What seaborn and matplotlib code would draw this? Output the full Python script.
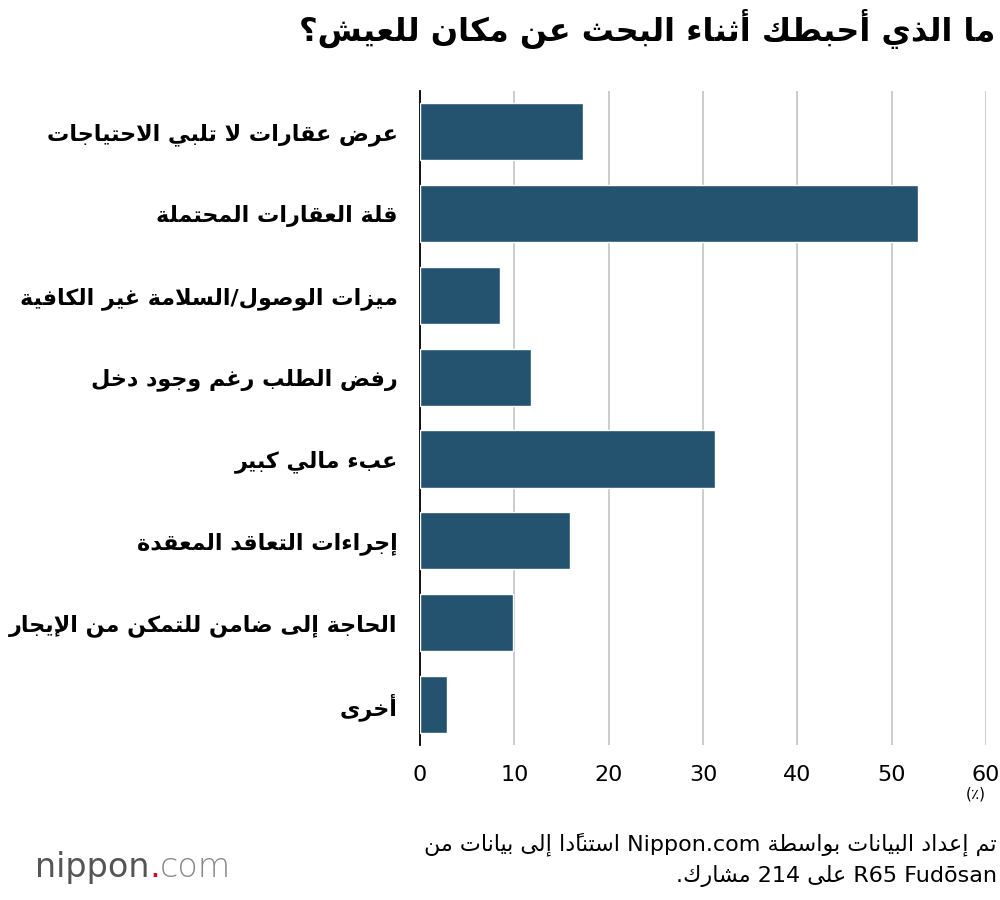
import matplotlib
matplotlib.use("Agg")
import matplotlib.pyplot as plt
import seaborn as sns
import pandas as pd

title = "ما الذي أحبطك أثناء البحث عن مكان للعيش؟"
categories = [
    "عرض عقارات لا تلبي الاحتياجات",
    "قلة العقارات المحتملة",
    "ميزات الوصول/السلامة غير الكافية",
    "رفض الطلب رغم وجود دخل",
    "عبء مالي كبير",
    "إجراءات التعاقد المعقدة",
    "الحاجة إلى ضامن للتمكن من الإيجار",
    "أخرى",
]
values = [17.3, 52.8, 8.5, 11.8, 31.3, 15.9, 9.9, 2.9]
xticks = [0, 10, 20, 30, 40, 50, 60]
unit = "(٪)"
note1 = "تم إعداد البيانات بواسطة Nippon.com استنادًا إلى بيانات من"
note2 = "R65 Fudōsan على 214 مشارك."

# ---- minimal Arabic shaping + bidi ----
F = {
 '\u0621': (0xFE80,), '\u0622': (0xFE81, 0xFE82), '\u0623': (0xFE83, 0xFE84),
 '\u0624': (0xFE85, 0xFE86), '\u0625': (0xFE87, 0xFE88), '\u0626': (0xFE89, 0xFE8A, 0xFE8B, 0xFE8C),
 '\u0627': (0xFE8D, 0xFE8E), '\u0628': (0xFE8F, 0xFE90, 0xFE91, 0xFE92), '\u0629': (0xFE93, 0xFE94),
 '\u062A': (0xFE95, 0xFE96, 0xFE97, 0xFE98), '\u062B': (0xFE99, 0xFE9A, 0xFE9B, 0xFE9C),
 '\u062C': (0xFE9D, 0xFE9E, 0xFE9F, 0xFEA0), '\u062D': (0xFEA1, 0xFEA2, 0xFEA3, 0xFEA4),
 '\u062E': (0xFEA5, 0xFEA6, 0xFEA7, 0xFEA8), '\u062F': (0xFEA9, 0xFEAA), '\u0630': (0xFEAB, 0xFEAC),
 '\u0631': (0xFEAD, 0xFEAE), '\u0632': (0xFEAF, 0xFEB0), '\u0633': (0xFEB1, 0xFEB2, 0xFEB3, 0xFEB4),
 '\u0634': (0xFEB5, 0xFEB6, 0xFEB7, 0xFEB8), '\u0635': (0xFEB9, 0xFEBA, 0xFEBB, 0xFEBC),
 '\u0636': (0xFEBD, 0xFEBE, 0xFEBF, 0xFEC0), '\u0637': (0xFEC1, 0xFEC2, 0xFEC3, 0xFEC4),
 '\u0638': (0xFEC5, 0xFEC6, 0xFEC7, 0xFEC8), '\u0639': (0xFEC9, 0xFECA, 0xFECB, 0xFECC),
 '\u063A': (0xFECD, 0xFECE, 0xFECF, 0xFED0), '\u0641': (0xFED1, 0xFED2, 0xFED3, 0xFED4),
 '\u0642': (0xFED5, 0xFED6, 0xFED7, 0xFED8), '\u0643': (0xFED9, 0xFEDA, 0xFEDB, 0xFEDC),
 '\u0644': (0xFEDD, 0xFEDE, 0xFEDF, 0xFEE0), '\u0645': (0xFEE1, 0xFEE2, 0xFEE3, 0xFEE4),
 '\u0646': (0xFEE5, 0xFEE6, 0xFEE7, 0xFEE8), '\u0647': (0xFEE9, 0xFEEA, 0xFEEB, 0xFEEC),
 '\u0648': (0xFEED, 0xFEEE), '\u0649': (0xFEEF, 0xFEF0), '\u064A': (0xFEF1, 0xFEF2, 0xFEF3, 0xFEF4),
}
LA = {'\u0622': (0xFEF5, 0xFEF6), '\u0623': (0xFEF7, 0xFEF8), '\u0625': (0xFEF9, 0xFEFA), '\u0627': (0xFEFB, 0xFEFC)}

def is_mark(c):
    return '\u064B' <= c <= '\u065F' or c == '\u0670'

def shape(s):
    cl = []
    for c in s:
        if is_mark(c) and cl:
            cl[-1][1] += c
        else:
            cl.append([c, ''])
    merged = []
    i = 0
    while i < len(cl):
        if cl[i][0] == '\u0644' and i + 1 < len(cl) and cl[i + 1][0] in LA:
            merged.append(['LA' + cl[i + 1][0], cl[i][1] + cl[i + 1][1]])
            i += 2
        else:
            merged.append(cl[i]); i += 1
    def forms(b):
        if b.startswith('LA'):
            return 2
        return len(F[b]) if b in F else 0
    out = []
    for k, (b, m) in enumerate(merged):
        n = forms(b)
        if n == 0:
            out.append([b, m]); continue
        prev = merged[k - 1][0] if k > 0 else None
        nxt = merged[k + 1][0] if k + 1 < len(merged) else None
        jp = prev is not None and forms(prev) == 4
        jn = n == 4 and nxt is not None and forms(nxt) > 1
        if b.startswith('LA'):
            g = LA[b[2:]][1 if jp else 0]
        else:
            t = F[b]
            if n == 1:
                g = t[0]
            elif jp and jn:
                g = t[3]
            elif jn:
                g = t[2]
            elif jp:
                g = t[1]
            else:
                g = t[0]
        out.append([chr(g), m])
    return out

def is_ltr(c):
    return c.isascii() and c.isalnum() or c in 'ōŌ'

def bidi(s):
    cl = shape(s)
    types = []
    for b, m in cl:
        if is_ltr(b[0]):
            types.append('L')
        elif b[0] in ' .,/:()' or b.isascii():
            types.append('N')
        else:
            types.append('R')
    n = len(types)
    res = list(types)
    for i in range(n):
        if types[i] == 'N':
            l = next((types[j] for j in range(i - 1, -1, -1) if types[j] != 'N'), 'R')
            r = next((types[j] for j in range(i + 1, n) if types[j] != 'N'), 'R')
            res[i] = 'L' if (l == 'L' and r == 'L') else 'R'
    runs = []
    for i, (b, m) in enumerate(cl):
        if runs and runs[-1][0] == res[i]:
            runs[-1][1].append((b, m))
        else:
            runs.append([res[i], [(b, m)]])
    txt = ''
    for t, items in reversed(runs):
        if t == 'R':
            mirror = {'(': ')', ')': '('}
            txt += ''.join(mirror.get(b, b) + m for b, m in reversed(items))
        else:
            txt += ''.join(b + m for b, m in items)
    return txt

sns.set_theme(style="white")
plt.rcParams['font.family'] = ['DejaVu Sans']

df = pd.DataFrame({"cat": [bidi(c) for c in categories], "val": values})

fig = plt.figure(figsize=(10, 9), dpi=100)
ax = fig.add_axes([0.42, 0.172, 0.566, 0.727])
sns.barplot(data=df, x="val", y="cat", color="#23536f", saturation=1, width=0.7, ax=ax, zorder=3)
ax.set_xlim(0, 60)
ax.set_xticks(xticks)
ax.set_xticklabels([str(t) for t in xticks], fontsize=16, color="black")
ax.xaxis.grid(True, color="#c8c8c8", linewidth=1.3, zorder=0)
ax.set_axisbelow(True)
for s in ["top", "right", "bottom"]:
    ax.spines[s].set_visible(False)
ax.spines["left"].set_color("black")
ax.spines["left"].set_linewidth(1.3)
ax.set_xlabel("")
ax.set_ylabel("")
ax.tick_params(axis="y", length=0, pad=16)
ax.tick_params(axis="x", length=0, pad=14)
for lbl in ax.get_yticklabels():
    lbl.set_fontsize(16)
    lbl.set_fontweight("bold")
    lbl.set_color("black")

fig.text(0.986, 0.118, bidi(unit), ha="right", va="center", fontsize=11, color="black")
fig.text(0.995, 0.968, bidi(title), ha="right", va="center", fontsize=23, fontweight="bold", color="black")
fig.text(0.997, 0.062, bidi(note1), ha="right", va="center", fontsize=16, color="black")
fig.text(0.997, 0.027, bidi(note2), ha="right", va="center", fontsize=16, color="black")

t1 = fig.text(0.035, 0.036, "nippon", ha="left", va="center", fontsize=24, color="#555555")
fig.canvas.draw()
bb = t1.get_window_extent()
x2 = bb.x1 / fig.bbox.width
t2 = fig.text(x2, 0.036, ".", ha="left", va="center", fontsize=24, color="#e0001b")
fig.canvas.draw()
x3 = t2.get_window_extent().x1 / fig.bbox.width
fig.text(x3, 0.036, "com", ha="left", va="center", fontsize=24, color="#888888", fontweight="light")

fig.savefig("out.png", dpi=100)
